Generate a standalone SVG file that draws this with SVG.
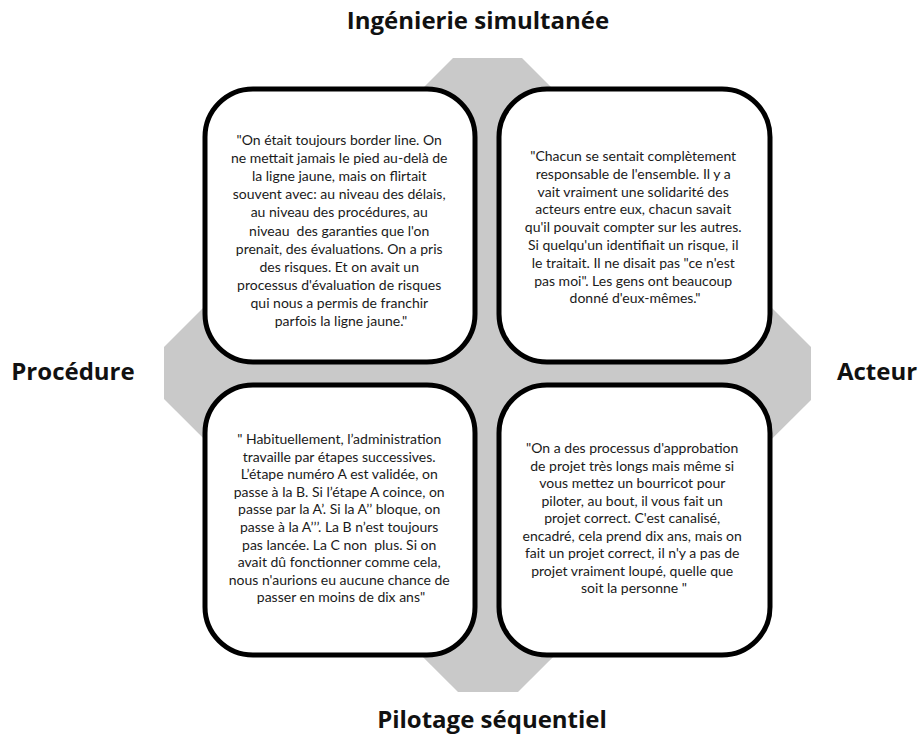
<svg xmlns="http://www.w3.org/2000/svg" width="921" height="738" viewBox="0 0 921 738">
<style>
.bg{fill:#c9c9c9;stroke:none}
.box{fill:#ffffff;stroke:#000000;stroke-width:5}
.q{font-family:Lato,"Liberation Sans",sans-serif;font-size:14px;fill:#1a1a1a;text-anchor:middle}
.lbl{font-family:"Open Sans","Liberation Sans",sans-serif;font-size:24px;font-weight:bold;fill:#111111;text-anchor:middle}
</style>
<rect width="921" height="738" fill="#ffffff"/>
<g id="background">
<polygon class="bg" points="453,58 522,58 811,347 811,400 518,692 458,692 164,399 164,347"/>
</g>
<g id="connectors"></g>
<g id="label-top"><text class="lbl" x="478" y="29">Ingénierie simultanée</text></g>
<g id="label-left"><text class="lbl" x="73" y="380">Procédure</text></g>
<g id="label-right"><text class="lbl" x="877" y="380">Acteur</text></g>
<g id="label-bottom"><text class="lbl" x="492" y="728">Pilotage séquentiel</text></g>
<g id="box-tl">
<rect class="box" x="205" y="89" width="270" height="273" rx="48" ry="48"/>
<text class="q" x="341" y="145">
<tspan x="341" dy="0">"On était toujours border line. On</tspan>
<tspan x="341" dy="18.1">ne mettait jamais le pied au-delà de</tspan>
<tspan x="341" dy="18.1">la ligne jaune, mais on flirtait</tspan>
<tspan x="341" dy="18.1">souvent avec: au niveau des délais,</tspan>
<tspan x="341" dy="18.1">au niveau des procédures, au</tspan>
<tspan x="341" dy="18.1" xml:space="preserve">niveau  des garanties que l'on</tspan>
<tspan x="341" dy="18.1">prenait, des évaluations. On a pris</tspan>
<tspan x="341" dy="18.1">des risques. Et on avait un</tspan>
<tspan x="341" dy="18.1">processus d'évaluation de risques</tspan>
<tspan x="341" dy="18.1">qui nous a permis de franchir</tspan>
<tspan x="341" dy="18.1">parfois la ligne jaune."</tspan>
</text>
</g>
<g id="box-tr">
<rect class="box" x="499" y="89" width="271" height="273" rx="48" ry="48"/>
<text class="q" x="635" y="161">
<tspan x="635" dy="0">"Chacun se sentait complètement</tspan>
<tspan x="635" dy="17.8">responsable de l'ensemble. Il y a</tspan>
<tspan x="635" dy="17.8">vait vraiment une solidarité des</tspan>
<tspan x="635" dy="17.8">acteurs entre eux, chacun savait</tspan>
<tspan x="635" dy="17.8">qu'il pouvait compter sur les autres.</tspan>
<tspan x="635" dy="17.8">Si quelqu'un identifiait un risque, il</tspan>
<tspan x="635" dy="17.8">le traitait. Il ne disait pas "ce n'est</tspan>
<tspan x="635" dy="17.8">pas moi". Les gens ont beaucoup</tspan>
<tspan x="635" dy="17.8">donné d'eux-mêmes."</tspan>
</text>
</g>
<g id="box-bl">
<rect class="box" x="205" y="385" width="270" height="270" rx="48" ry="48"/>
<text class="q" x="341" y="444">
<tspan x="341" dy="0">" Habituellement, l’administration</tspan>
<tspan x="341" dy="17.6">travaille par étapes successives.</tspan>
<tspan x="341" dy="17.6">L’étape numéro A est validée, on</tspan>
<tspan x="341" dy="17.6">passe à la B. Si l’étape A coince, on</tspan>
<tspan x="341" dy="17.6">passe par la A’. Si la A’’ bloque, on</tspan>
<tspan x="341" dy="17.6">passe à la A’’’. La B n’est toujours</tspan>
<tspan x="341" dy="17.6" xml:space="preserve">pas lancée. La C non  plus. Si on</tspan>
<tspan x="341" dy="17.6">avait dû fonctionner comme cela,</tspan>
<tspan x="341" dy="17.6">nous n'aurions eu aucune chance de</tspan>
<tspan x="341" dy="17.6">passer en moins de dix ans"</tspan>
</text>
</g>
<g id="box-br">
<rect class="box" x="499" y="385" width="271" height="270" rx="48" ry="48"/>
<text class="q" x="634" y="453">
<tspan x="634" dy="0">"On a des processus d'approbation</tspan>
<tspan x="634" dy="17.5">de projet très longs mais même si</tspan>
<tspan x="634" dy="17.5">vous mettez un bourricot pour</tspan>
<tspan x="634" dy="17.5">piloter, au bout, il vous fait un</tspan>
<tspan x="634" dy="17.5">projet correct. C'est canalisé,</tspan>
<tspan x="634" dy="17.5">encadré, cela prend dix ans, mais on</tspan>
<tspan x="634" dy="17.5">fait un projet correct, il n'y a pas de</tspan>
<tspan x="634" dy="17.5">projet vraiment loupé, quelle que</tspan>
<tspan x="634" dy="17.5">soit la personne "</tspan>
</text>
</g>
</svg>
